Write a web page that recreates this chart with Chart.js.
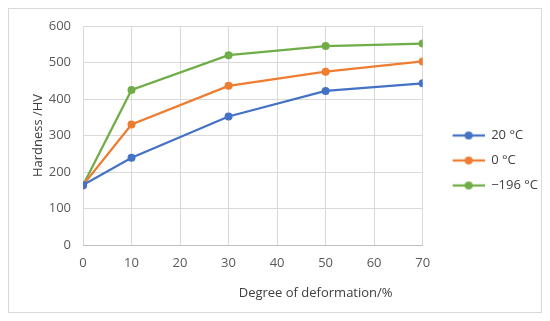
<!DOCTYPE html>
<html>
<head>
<meta charset="utf-8">
<script src="https://cdn.jsdelivr.net/npm/chart.js@4/dist/chart.umd.min.js"></script>
<style>
  html, body { margin:0; padding:0; background:#fff; }
  #wrap { width:550px; height:321px; position:relative; }
</style>
</head>
<body>
<div id="wrap"><canvas id="chart" width="550" height="321"></canvas></div>
<script>
// Dureza vs grau de deformação
const deformacao = [0, 10, 30, 50, 70];
const dureza20 = [164, 239, 352, 422, 443];
const dureza0 = [164, 330, 436, 475, 503];
const dureza196 = [164, 425, 520, 545, 552];
const rotulos = ['20 °C', '0 °C', '\u2212196 °C'];
const cores = ['#4472C4', '#ED7D31', '#70AD47'];
const tituloX = 'Degree of deformation/%';
const tituloY = 'Hardness /HV';

const FONTE = "'Open Sans', sans-serif";
const TAM = 13;

function pontos(ys){
  return deformacao.map((x, i) => ({ x: x, y: ys[i] }));
}

// marcador de legenda: espaço vazio à esquerda + linha com ponto
function marcador(cor){
  const c = document.createElement('canvas');
  c.width = 50; c.height = 12;
  const g = c.getContext('2d');
  g.strokeStyle = cor; g.lineWidth = 2.25;
  g.beginPath(); g.moveTo(18, 6); g.lineTo(50, 6); g.stroke();
  g.fillStyle = cor;
  g.beginPath(); g.arc(34, 6, 4, 0, Math.PI*2); g.fill();
  return c;
}

const moldura = {
  id: 'moldura',
  beforeDraw(chart){
    const ctx = chart.ctx;
    ctx.save();
    ctx.fillStyle = '#fff';
    ctx.fillRect(0, 0, chart.width, chart.height);
    ctx.strokeStyle = '#d9d9d9';
    ctx.lineWidth = 1;
    ctx.strokeRect(8.5, 8.5, 533, 304);
    ctx.restore();
  },
  // título do eixo x (no original fica deslocado para a direita)
  afterDraw(chart){
    const ctx = chart.ctx;
    const a = chart.chartArea;
    ctx.save();
    ctx.font = TAM + 'px ' + FONTE;
    ctx.fillStyle = '#404040';
    ctx.textAlign = 'center';
    ctx.textBaseline = 'middle';
    ctx.fillText(tituloX, a.left + (a.right - a.left) * 0.685, a.bottom + 48);
    ctx.restore();
  }
};

const series = [dureza20, dureza0, dureza196];

new Chart(document.getElementById('chart').getContext('2d'), {
  type: 'line',
  data: {
    datasets: series.map((s, i) => ({
      label: rotulos[i],
      data: pontos(s),
      borderColor: cores[i],
      backgroundColor: cores[i],
      borderWidth: 2.25,
      pointRadius: 4,
      pointHoverRadius: 4,
      pointBorderWidth: 0,
      tension: 0
    }))
  },
  options: {
    responsive: false,
    animation: false,
    layout: { padding: { left: 30, right: 2, top: 26, bottom: 26 } },
    scales: {
      x: {
        type: 'linear', min: 0, max: 70,
        afterFit(s){ s.height = 50; },
        ticks: { stepSize: 10, color: '#595959', font: { family: FONTE, size: TAM }, padding: 10 },
        grid: { color: '#d9d9d9', tickLength: 0 },
        border: { color: '#bfbfbf' },
        title: { display: false }
      },
      y: {
        min: 0, max: 600,
        afterFit(s){ s.width = 53; },
        ticks: { stepSize: 100, color: '#595959', font: { family: FONTE, size: TAM }, padding: 12 },
        grid: { color: '#d9d9d9', tickLength: 0 },
        border: { display: false },
        title: { display: true, text: tituloY, color: '#404040', font: { family: FONTE, size: TAM }, padding: { top: 0, bottom: 0 } }
      }
    },
    plugins: {
      legend: {
        position: 'right',
        align: 'center',
        labels: {
          color: '#404040',
          font: { family: FONTE, size: TAM },
          usePointStyle: true,
          pointStyleWidth: 50,
          boxHeight: 12,
          padding: 12,
          generateLabels(chart){
            const itens = Chart.defaults.plugins.legend.labels.generateLabels(chart);
            itens.forEach((it, i) => { it.pointStyle = marcador(cores[i]); });
            return itens;
          }
        }
      },
      tooltip: { enabled: false }
    }
  },
  plugins: [moldura]
});
</script>
</body>
</html>
